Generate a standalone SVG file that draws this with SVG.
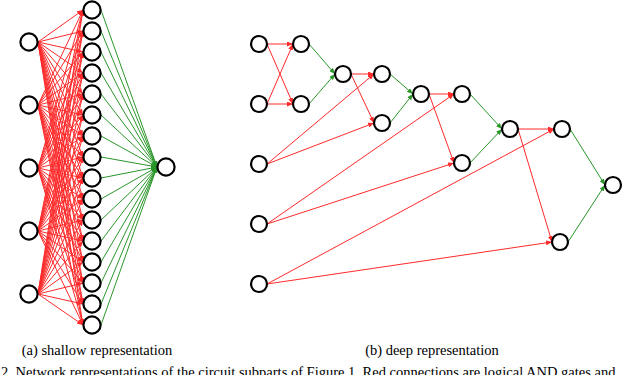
<svg xmlns="http://www.w3.org/2000/svg" width="640" height="375" viewBox="0 0 640 375">
<style>
.n{fill:#fff;stroke:#000;stroke-width:2.2}
.r{stroke:#ff2a2a;stroke-width:1;fill:none;marker-end:url(#ar)}
.g{stroke:#2a962a;stroke-width:1;fill:none;marker-end:url(#ag)}
.cap{font-family:"Liberation Serif","Times New Roman",serif;font-size:14.5px;fill:#000}
</style>
<defs>
<marker id="ar" markerUnits="userSpaceOnUse" markerWidth="6" markerHeight="5" refX="6" refY="2.5" orient="auto"><path d="M0,0 L6,2.5 L0,5 z" fill="#ff2a2a"/></marker>
<marker id="ag" markerUnits="userSpaceOnUse" markerWidth="6" markerHeight="5" refX="6" refY="2.5" orient="auto"><path d="M0,0 L6,2.5 L0,5 z" fill="#2a962a"/></marker>
</defs>
<g id="connectors">
<g id="shallow-edges">
<line class="r" x1="38" y1="42" x2="83" y2="10"/><line class="r" x1="38" y1="42" x2="83" y2="31"/><line class="r" x1="38" y1="42" x2="83" y2="52"/><line class="r" x1="38" y1="42" x2="83" y2="73"/><line class="r" x1="38" y1="42" x2="83" y2="94"/><line class="r" x1="38" y1="42" x2="83" y2="115"/><line class="r" x1="38" y1="42" x2="83" y2="136"/><line class="r" x1="38" y1="42" x2="83" y2="157"/><line class="r" x1="38" y1="42" x2="83" y2="178"/><line class="r" x1="38" y1="42" x2="83" y2="199"/><line class="r" x1="38" y1="42" x2="83" y2="220"/><line class="r" x1="38" y1="42" x2="83" y2="241"/><line class="r" x1="38" y1="42" x2="83" y2="262"/><line class="r" x1="38" y1="42" x2="83" y2="283"/><line class="r" x1="38" y1="42" x2="83" y2="304"/><line class="r" x1="38" y1="42" x2="83" y2="325"/>
<line class="r" x1="38" y1="105" x2="83" y2="10"/><line class="r" x1="38" y1="105" x2="83" y2="31"/><line class="r" x1="38" y1="105" x2="83" y2="52"/><line class="r" x1="38" y1="105" x2="83" y2="73"/><line class="r" x1="38" y1="105" x2="83" y2="94"/><line class="r" x1="38" y1="105" x2="83" y2="115"/><line class="r" x1="38" y1="105" x2="83" y2="136"/><line class="r" x1="38" y1="105" x2="83" y2="157"/><line class="r" x1="38" y1="105" x2="83" y2="178"/><line class="r" x1="38" y1="105" x2="83" y2="199"/><line class="r" x1="38" y1="105" x2="83" y2="220"/><line class="r" x1="38" y1="105" x2="83" y2="241"/><line class="r" x1="38" y1="105" x2="83" y2="262"/><line class="r" x1="38" y1="105" x2="83" y2="283"/><line class="r" x1="38" y1="105" x2="83" y2="304"/><line class="r" x1="38" y1="105" x2="83" y2="325"/>
<line class="r" x1="38" y1="168" x2="83" y2="10"/><line class="r" x1="38" y1="168" x2="83" y2="31"/><line class="r" x1="38" y1="168" x2="83" y2="52"/><line class="r" x1="38" y1="168" x2="83" y2="73"/><line class="r" x1="38" y1="168" x2="83" y2="94"/><line class="r" x1="38" y1="168" x2="83" y2="115"/><line class="r" x1="38" y1="168" x2="83" y2="136"/><line class="r" x1="38" y1="168" x2="83" y2="157"/><line class="r" x1="38" y1="168" x2="83" y2="178"/><line class="r" x1="38" y1="168" x2="83" y2="199"/><line class="r" x1="38" y1="168" x2="83" y2="220"/><line class="r" x1="38" y1="168" x2="83" y2="241"/><line class="r" x1="38" y1="168" x2="83" y2="262"/><line class="r" x1="38" y1="168" x2="83" y2="283"/><line class="r" x1="38" y1="168" x2="83" y2="304"/><line class="r" x1="38" y1="168" x2="83" y2="325"/>
<line class="r" x1="38" y1="231" x2="83" y2="10"/><line class="r" x1="38" y1="231" x2="83" y2="31"/><line class="r" x1="38" y1="231" x2="83" y2="52"/><line class="r" x1="38" y1="231" x2="83" y2="73"/><line class="r" x1="38" y1="231" x2="83" y2="94"/><line class="r" x1="38" y1="231" x2="83" y2="115"/><line class="r" x1="38" y1="231" x2="83" y2="136"/><line class="r" x1="38" y1="231" x2="83" y2="157"/><line class="r" x1="38" y1="231" x2="83" y2="178"/><line class="r" x1="38" y1="231" x2="83" y2="199"/><line class="r" x1="38" y1="231" x2="83" y2="220"/><line class="r" x1="38" y1="231" x2="83" y2="241"/><line class="r" x1="38" y1="231" x2="83" y2="262"/><line class="r" x1="38" y1="231" x2="83" y2="283"/><line class="r" x1="38" y1="231" x2="83" y2="304"/><line class="r" x1="38" y1="231" x2="83" y2="325"/>
<line class="r" x1="38" y1="294" x2="83" y2="10"/><line class="r" x1="38" y1="294" x2="83" y2="31"/><line class="r" x1="38" y1="294" x2="83" y2="52"/><line class="r" x1="38" y1="294" x2="83" y2="73"/><line class="r" x1="38" y1="294" x2="83" y2="94"/><line class="r" x1="38" y1="294" x2="83" y2="115"/><line class="r" x1="38" y1="294" x2="83" y2="136"/><line class="r" x1="38" y1="294" x2="83" y2="157"/><line class="r" x1="38" y1="294" x2="83" y2="178"/><line class="r" x1="38" y1="294" x2="83" y2="199"/><line class="r" x1="38" y1="294" x2="83" y2="220"/><line class="r" x1="38" y1="294" x2="83" y2="241"/><line class="r" x1="38" y1="294" x2="83" y2="262"/><line class="r" x1="38" y1="294" x2="83" y2="283"/><line class="r" x1="38" y1="294" x2="83" y2="304"/><line class="r" x1="38" y1="294" x2="83" y2="325"/>
<line class="g" x1="101" y1="10" x2="157" y2="167"/><line class="g" x1="101" y1="31" x2="157" y2="167"/><line class="g" x1="101" y1="52" x2="157" y2="167"/><line class="g" x1="101" y1="73" x2="157" y2="167"/><line class="g" x1="101" y1="94" x2="157" y2="167"/><line class="g" x1="101" y1="115" x2="157" y2="167"/><line class="g" x1="101" y1="136" x2="157" y2="167"/><line class="g" x1="101" y1="157" x2="157" y2="167"/><line class="g" x1="101" y1="178" x2="157" y2="167"/><line class="g" x1="101" y1="199" x2="157" y2="167"/><line class="g" x1="101" y1="220" x2="157" y2="167"/><line class="g" x1="101" y1="241" x2="157" y2="167"/><line class="g" x1="101" y1="262" x2="157" y2="167"/><line class="g" x1="101" y1="283" x2="157" y2="167"/><line class="g" x1="101" y1="304" x2="157" y2="167"/><line class="g" x1="101" y1="325" x2="157" y2="167"/>
</g>
<g id="deep-edges">
<line class="r" x1="267" y1="44" x2="293" y2="44"/>
<line class="r" x1="267" y1="44" x2="293" y2="104"/>
<line class="r" x1="267" y1="104" x2="293" y2="44"/>
<line class="r" x1="267" y1="104" x2="293" y2="104"/>
<line class="g" x1="309" y1="44" x2="335" y2="74"/>
<line class="g" x1="309" y1="104" x2="335" y2="74"/>
<line class="r" x1="351" y1="74" x2="374" y2="74"/>
<line class="r" x1="351" y1="74" x2="374" y2="123"/>
<line class="r" x1="267" y1="164" x2="374" y2="74"/>
<line class="r" x1="267" y1="164" x2="374" y2="123"/>
<line class="g" x1="390" y1="74" x2="413" y2="94"/>
<line class="g" x1="390" y1="123" x2="413" y2="94"/>
<line class="r" x1="429" y1="94" x2="454" y2="94"/>
<line class="r" x1="429" y1="94" x2="454" y2="163"/>
<line class="r" x1="267" y1="224" x2="454" y2="94"/>
<line class="r" x1="267" y1="224" x2="454" y2="163"/>
<line class="g" x1="470" y1="94" x2="502" y2="129"/>
<line class="g" x1="470" y1="163" x2="502" y2="129"/>
<line class="r" x1="518" y1="129" x2="554" y2="129"/>
<line class="r" x1="518" y1="129" x2="552" y2="242"/>
<line class="r" x1="267" y1="284" x2="554" y2="129"/>
<line class="r" x1="267" y1="284" x2="552" y2="242"/>
<line class="g" x1="570" y1="129" x2="605" y2="185"/>
<line class="g" x1="568" y1="242" x2="605" y2="185"/>
</g>
</g>
<g id="shallow-nodes">
<g id="s-in1"><circle class="n" cx="29" cy="42" r="8.6"/></g>
<g id="s-in2"><circle class="n" cx="29" cy="105" r="8.6"/></g>
<g id="s-in3"><circle class="n" cx="29" cy="168" r="8.6"/></g>
<g id="s-in4"><circle class="n" cx="29" cy="231" r="8.6"/></g>
<g id="s-in5"><circle class="n" cx="29" cy="294" r="8.6"/></g>
<g id="s-h1"><circle class="n" cx="92" cy="10" r="8.6"/></g>
<g id="s-h2"><circle class="n" cx="92" cy="31" r="8.6"/></g>
<g id="s-h3"><circle class="n" cx="92" cy="52" r="8.6"/></g>
<g id="s-h4"><circle class="n" cx="92" cy="73" r="8.6"/></g>
<g id="s-h5"><circle class="n" cx="92" cy="94" r="8.6"/></g>
<g id="s-h6"><circle class="n" cx="92" cy="115" r="8.6"/></g>
<g id="s-h7"><circle class="n" cx="92" cy="136" r="8.6"/></g>
<g id="s-h8"><circle class="n" cx="92" cy="157" r="8.6"/></g>
<g id="s-h9"><circle class="n" cx="92" cy="178" r="8.6"/></g>
<g id="s-h10"><circle class="n" cx="92" cy="199" r="8.6"/></g>
<g id="s-h11"><circle class="n" cx="92" cy="220" r="8.6"/></g>
<g id="s-h12"><circle class="n" cx="92" cy="241" r="8.6"/></g>
<g id="s-h13"><circle class="n" cx="92" cy="262" r="8.6"/></g>
<g id="s-h14"><circle class="n" cx="92" cy="283" r="8.6"/></g>
<g id="s-h15"><circle class="n" cx="92" cy="304" r="8.6"/></g>
<g id="s-h16"><circle class="n" cx="92" cy="325" r="8.6"/></g>
<g id="s-out"><circle class="n" cx="166" cy="167" r="8.6"/></g>
</g>
<g id="deep-nodes">
<g id="d-in1"><circle class="n" cx="259" cy="44" r="8"/></g>
<g id="d-in2"><circle class="n" cx="259" cy="104" r="8"/></g>
<g id="d-in3"><circle class="n" cx="259" cy="164" r="8"/></g>
<g id="d-in4"><circle class="n" cx="259" cy="224" r="8"/></g>
<g id="d-in5"><circle class="n" cx="259" cy="284" r="8"/></g>
<g id="d-b1"><circle class="n" cx="301" cy="44" r="8"/></g>
<g id="d-b2"><circle class="n" cx="301" cy="104" r="8"/></g>
<g id="d-c"><circle class="n" cx="343" cy="74" r="8"/></g>
<g id="d-d1"><circle class="n" cx="382" cy="74" r="8"/></g>
<g id="d-d2"><circle class="n" cx="382" cy="123" r="8"/></g>
<g id="d-e"><circle class="n" cx="421" cy="94" r="8"/></g>
<g id="d-f1"><circle class="n" cx="462" cy="94" r="8"/></g>
<g id="d-f2"><circle class="n" cx="462" cy="163" r="8"/></g>
<g id="d-g"><circle class="n" cx="510" cy="129" r="8"/></g>
<g id="d-h1"><circle class="n" cx="562" cy="129" r="8"/></g>
<g id="d-h2"><circle class="n" cx="560" cy="242" r="8"/></g>
<g id="d-out"><circle class="n" cx="613" cy="185" r="8"/></g>
</g>
<text class="cap" x="97" y="355" text-anchor="middle">(a) shallow representation</text>
<text class="cap" x="432" y="355" text-anchor="middle">(b) deep representation</text>
<text class="cap" x="1" y="377">2.  Network representations of the circuit subparts of Figure 1. Red connections are logical AND gates and</text>
</svg>
